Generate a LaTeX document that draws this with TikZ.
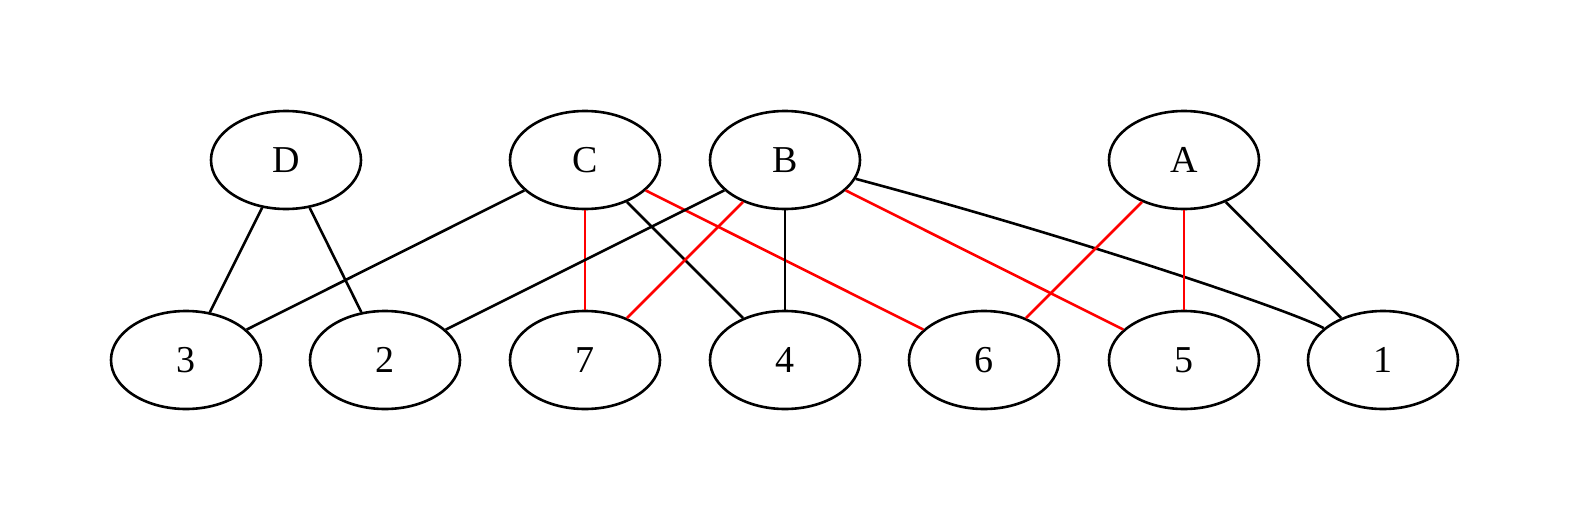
\documentclass[tikz,border=0pt]{standalone}
\usepackage{fontspec}
\setmainfont{Liberation Serif}
\usetikzlibrary{shapes.geometric}
\tikzset{
  vtx/.style={ellipse,draw,line width=2.6pt,minimum width=150pt,minimum height=98pt,inner sep=0pt,font=\fontsize{38}{40}\selectfont},
  blk/.style={line width=2.6pt,black},
  redl/.style={line width=2.6pt,color={rgb,255:red,255;green,0;blue,0}}
}
\begin{document}
\begin{tikzpicture}[x=1pt,y=-1pt]
\useasboundingbox (0,0) rectangle (1572,522);
\node[vtx] (D) at (286,160) {D};
\node[vtx] (C) at (585,160) {C};
\node[vtx] (B) at (785,160) {B};
\node[vtx] (A) at (1184,160) {A};
\node[vtx] (n3) at (186,360) {3};
\node[vtx] (n2) at (385,360) {2};
\node[vtx] (n7) at (585,360) {7};
\node[vtx] (n4) at (785,360) {4};
\node[vtx] (n6) at (984,360) {6};
\node[vtx] (n5) at (1184,360) {5};
\node[vtx] (n1) at (1383,360) {1};
\draw[blk] (D) -- (n3);
\draw[blk] (D) -- (n2);
\draw[blk] (C) -- (n3);
\draw[redl] (C) -- (n7);
\draw[blk] (C) -- (n4);
\draw[redl] (C) -- (n6);
\draw[blk] (B) -- (n2);
\draw[redl] (B) -- (n7);
\draw[blk] (B) -- (n4);
\draw[redl] (B) -- (n5);
\draw[blk] (B) .. controls (1070,236) and (1290,310) .. (n1);
\draw[redl] (A) -- (n6);
\draw[redl] (A) -- (n5);
\draw[blk] (A) -- (n1);
\end{tikzpicture}
\end{document}
